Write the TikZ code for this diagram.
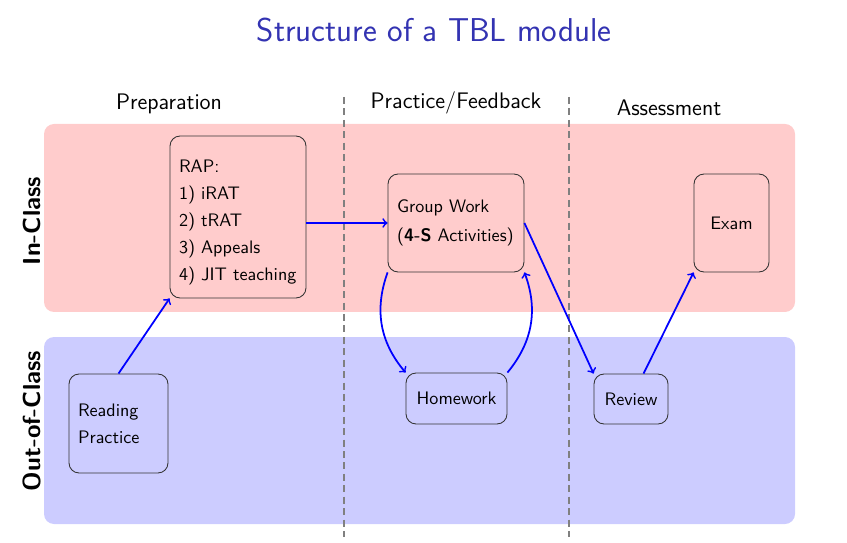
\documentclass[tikz,border=0pt]{standalone}
\usepackage{amsmath, amssymb}
\usepackage{xcolor}
\definecolor{structblue}{rgb}{0.2,0.2,0.7}

\begin{document}
\begin{tikzpicture}[x=0.02cm, y=-0.02cm,
    band/.style={rounded corners=0.2cm},
    stage/.style={draw=black!80, line width=0.5pt, rounded corners=0.2cm, inner sep=0.18cm,
      align=left, font=\sffamily\fontsize{10.3}{15.4}\selectfont},
    flow/.style={->, blue, line width=1pt},
    divider/.style={gray, line width=0.6pt, dash pattern=on 4pt off 2.5pt},
    header/.style={font=\sffamily\fontsize{12.8}{15}\selectfont},
    side/.style={rotate=90, font=\sffamily\bfseries\fontsize{14}{16}\selectfont}]

      \useasboundingbox (0,0) rectangle (847,543);

      % the two rows
      \fill[red!20, band] (44,124) rectangle (795,312);
      \fill[blue!20, band] (44,337) rectangle (795,524);

      \draw[divider] (344,97) -- (344,537);
      \draw[divider] (569,97) -- (569,537);

      \node[text=structblue, font=\sffamily\fontsize{18.8}{22}\selectfont] (title) at (434,30) {Structure of a TBL module};

      \node[header] (prep) at (169,104) {Preparation};
      \node[header] (prac) at (456,103) {Practice/Feedback};
      \node[header] (assess) at (669,108) {Assessment};

      \node[side] (inclass) at (32,221) {In-Class};
      \node[side] (outclass) at (32,421) {Out-of-Class};

      % stages
      \node[stage, text width=2.36cm, minimum height=3.24cm] (rap) at (238,217) {\rule{0pt}{13pt}RAP:\\1) iRAT\\2) tRAT\\3) Appeals\\4) \mbox{JIT teaching}};
      \node[stage, text width=2.36cm, minimum height=1.96cm] (gw) at (456,223) {Group Work\\[1pt](\textbf{4-S} Activities)};
      \node[stage, align=center, minimum width=1.5cm, minimum height=1.96cm] (exam) at (731.5,223) {Exam};
      \node[stage, text width=1.62cm, minimum height=1.98cm] (read) at (118.5,423.5) {Reading\\Practice};
      \node[stage, align=center, minimum width=2.02cm, minimum height=1.02cm] (hw) at (456.5,398.5) {Homework};
      \node[stage, align=center, minimum width=1.48cm, minimum height=1.0cm] (rv) at (631,399) {Review};

      % arrows
      \draw[flow] (read.north) -- (rap.south west);
      \draw[flow] (rap.east |- gw.west) -- (gw.west);
      \draw[flow] (gw.south west) to[bend right=30] (hw.north west);
      \draw[flow] (hw.north east) to[bend right=30] (gw.south east);
      \draw[flow] (gw.east) -- (rv.north west);
      \draw[flow] (rv) -- (exam.south west);

    \end{tikzpicture}
\end{document}
